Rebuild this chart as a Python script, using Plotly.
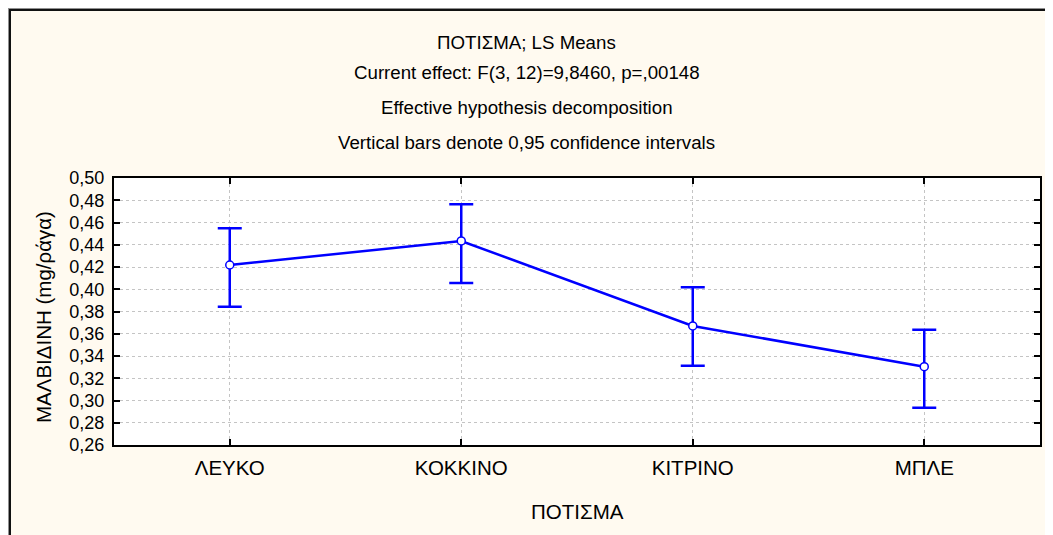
import plotly.graph_objects as go

categories = ["ΛΕΥΚΟ", "ΚΟΚΚΙΝΟ", "ΚΙΤΡΙΝΟ", "ΜΠΛΕ"]
means = [0.4218, 0.4434, 0.3670, 0.3304]
upper = [0.4548, 0.4763, 0.4017, 0.3637]
lower = [0.3843, 0.4056, 0.3313, 0.2935]

title_lines = [
    "ΠΟΤΙΣΜΑ; LS Means",
    "Current effect: F(3, 12)=9,8460, p=,00148",
    "Effective hypothesis decomposition",
    "Vertical bars denote 0,95 confidence intervals",
]
x_title = "ΠΟΤΙΣΜΑ"
y_title = "ΜΑΛΒΙΔΙΝΗ (mg/ράγα)"
y_ticks = [0.26, 0.28, 0.30, 0.32, 0.34, 0.36, 0.38, 0.40, 0.42, 0.44, 0.46, 0.48, 0.50]

# figure (paper) coordinates; page body adds an 8px offset
W, H = 1053, 535
OFF = 8
L, R, T, B = 114 - OFF, 1040 - OFF, 178 - OFF, 445 - OFF
pw, ph = R - L, B - T


def px(x):
    return (x - L) / pw


def py(y):
    return (B - y) / ph


BLUE = "#0000FF"
CREAM = "#FFFAF0"
FONT = "Liberation Sans, Arial, sans-serif"

fig = go.Figure()
fig.add_trace(go.Scatter(
    x=categories,
    y=means,
    mode="lines+markers",
    line=dict(color=BLUE, width=2.5),
    marker=dict(symbol="circle", size=8, color="white", line=dict(color=BLUE, width=1.5)),
    error_y=dict(
        type="data",
        symmetric=False,
        array=[u - m for u, m in zip(upper, means)],
        arrayminus=[m - l for m, l in zip(means, lower)],
        color=BLUE,
        thickness=2.5,
        width=12,
    ),
    showlegend=False,
    hoverinfo="x+y",
))

axis_common = dict(
    showline=True,
    linecolor="black",
    linewidth=2,
    mirror="allticks",
    ticks="inside",
    ticklen=6,
    tickwidth=2,
    tickcolor="black",
    showgrid=True,
    gridcolor="#C4C4C4",
    gridwidth=1,
    griddash="3px,3px",
    zeroline=False,
)

fig.update_xaxes(
    type="category",
    range=[-0.5, 3.5],
    tickfont=dict(family=FONT, size=20.5, color="black"),
    ticklabelstandoff=3,
    **axis_common,
)
fig.update_yaxes(
    range=[0.26, 0.50],
    tickvals=y_ticks,
    tickformat=".2f",
    tickfont=dict(family=FONT, size=18, color="black"),
    ticklabelstandoff=4,
    **axis_common,
)

annotations = []
title_y = [42, 73, 107, 143]
for text, yy in zip(title_lines, title_y):
    annotations.append(dict(
        text=text, x=px(W / 2 - OFF), y=py(yy - OFF), xref="paper", yref="paper",
        showarrow=False, xanchor="center", yanchor="middle",
        font=dict(family=FONT, size=18.7, color="black"),
    ))
annotations.append(dict(
    text=x_title, x=px((L + R) / 2), y=py(511 - OFF), xref="paper", yref="paper",
    showarrow=False, xanchor="center", yanchor="middle",
    font=dict(family=FONT, size=20.5, color="black"),
))
annotations.append(dict(
    text=y_title, x=px(43 - OFF), y=py(317 - OFF), xref="paper", yref="paper",
    showarrow=False, xanchor="center", yanchor="middle", textangle=-90,
    font=dict(family=FONT, size=20.5, color="black"),
))

shapes = [
    dict(type="line", xref="paper", yref="paper", x0=px(0), x1=px(W + 5), y0=py(0.5), y1=py(0.5),
         line=dict(color="#909090", width=1), layer="above"),
    dict(type="line", xref="paper", yref="paper", x0=px(0.5), x1=px(0.5), y0=py(0), y1=py(H + 5),
         line=dict(color="#909090", width=1), layer="above"),
    dict(type="line", xref="paper", yref="paper", x0=px(1), x1=px(W + 5), y0=py(2), y1=py(2),
         line=dict(color="#111111", width=2), layer="above"),
    dict(type="line", xref="paper", yref="paper", x0=px(2), x1=px(2), y0=py(1), y1=py(H + 5),
         line=dict(color="#111111", width=2), layer="above"),
]

fig.update_layout(
    width=W,
    height=H,
    margin=dict(l=L, r=W - R, t=T, b=H - B, pad=0),
    paper_bgcolor=CREAM,
    plot_bgcolor="white",
    separators=",.",
    font=dict(family=FONT, color="black"),
    annotations=annotations,
    shapes=shapes,
    showlegend=False,
)

fig.write_html("out.html")
